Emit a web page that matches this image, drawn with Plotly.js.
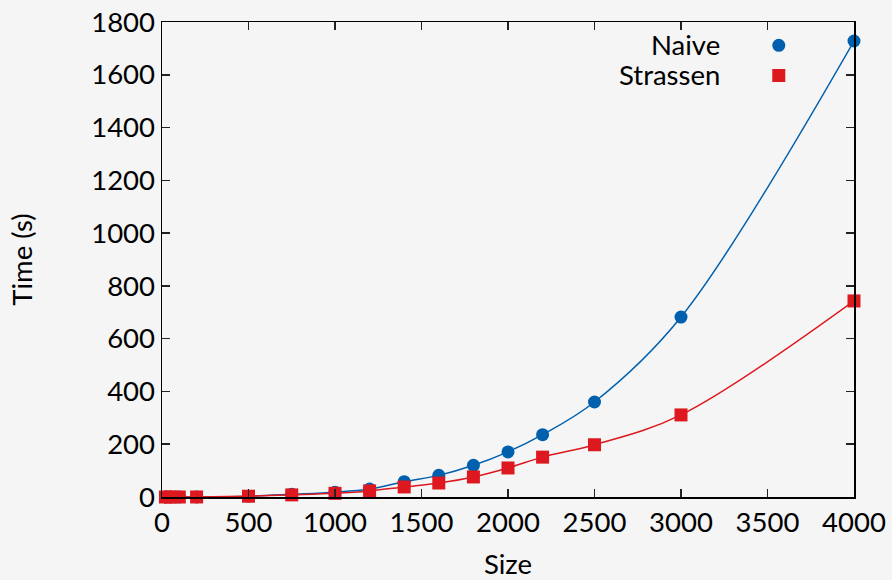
<!DOCTYPE html>
<html>
<head>
<meta charset="utf-8">
<script src="https://cdn.plot.ly/plotly-3.0.1.min.js"></script>
<style>html,body{margin:0;padding:0;background:#f5f5f5;}#chart{width:892px;height:580px;}</style>
</head>
<body>
<div id="chart"></div>
<script>
var sizes = [20, 50, 100, 200, 500, 750, 1000, 1200, 1400, 1600, 1800, 2000, 2200, 2500, 3000, 4000];
var naiveTimes = [0, 0, 0, 0.2, 3, 10, 18, 30, 58, 82, 120, 171, 236, 360, 682, 1728];
var strassenTimes = [0, 0, 0, 0.1, 3, 8, 14, 23, 38, 53, 76, 110, 151, 198, 311, 743];
var seriesNames = ['Naive', 'Strassen'];
var xTicks = [0, 500, 1000, 1500, 2000, 2500, 3000, 3500, 4000];
var yTicks = [0, 200, 400, 600, 800, 1000, 1200, 1400, 1600, 1800];

var blue = '#0060ad', red = '#dd181f';
var FONT = 'Lato, "Open Sans", sans-serif';
var FS = 27.5;

var traces = [
  {x: sizes, y: naiveTimes, mode: 'lines', line: {color: blue, width: 1.5, shape: 'spline', smoothing: 1}, showlegend: false, hoverinfo: 'skip', cliponaxis: false},
  {x: sizes, y: strassenTimes, mode: 'lines', line: {color: red, width: 1.5, shape: 'spline', smoothing: 1}, showlegend: false, hoverinfo: 'skip', cliponaxis: false},
  {x: sizes, y: naiveTimes, mode: 'markers', name: ' ', marker: {symbol: 'circle', size: 13, color: blue}, cliponaxis: false},
  {x: sizes, y: strassenTimes, mode: 'markers', name: ' ', marker: {symbol: 'square', size: 13, color: red}, cliponaxis: false}
];

var axisCommon = {
  showline: true, linecolor: '#000', linewidth: 1.5, mirror: 'ticks',
  ticks: 'inside', ticklen: 8, tickwidth: 1.5, tickcolor: '#222',
  showgrid: false, zeroline: false,
  tickfont: {family: FONT, size: FS, color: '#000'}
};

var layout = {
  width: 892, height: 580,
  paper_bgcolor: '#f5f5f5', plot_bgcolor: '#f5f5f5',
  margin: {l: 162, r: 38, t: 22, b: 83},
  font: {family: FONT, color: '#000'},
  xaxis: Object.assign({}, axisCommon, {
    range: [0, 4000], tickvals: xTicks, ticktext: xTicks.map(String),
    title: {text: 'Size', font: {family: FONT, size: FS, color: '#000'}, standoff: 28}
  }),
  yaxis: Object.assign({}, axisCommon, {
    range: [0, 1800], tickvals: yTicks, ticktext: yTicks.map(String),
    title: {text: 'Time (s)', font: {family: FONT, size: FS, color: '#000'}, standoff: 50}
  }),
  legend: {x: 0.8624, y: 0.993, xanchor: 'left', yanchor: 'top', bgcolor: 'rgba(0,0,0,0)', font: {family: FONT, size: 20.8}, tracegroupgap: 0},
  annotations: [
    {text: seriesNames[0], xref: 'paper', yref: 'paper', x: 0.809, y: 0.953, xanchor: 'right', yanchor: 'middle', showarrow: false, font: {family: FONT, size: FS, color: '#000'}},
    {text: seriesNames[1], xref: 'paper', yref: 'paper', x: 0.809, y: 0.889, xanchor: 'right', yanchor: 'middle', showarrow: false, font: {family: FONT, size: FS, color: '#000'}}
  ]
};

Plotly.newPlot('chart', traces, layout, {displayModeBar: false, staticPlot: true});
</script>
</body>
</html>
